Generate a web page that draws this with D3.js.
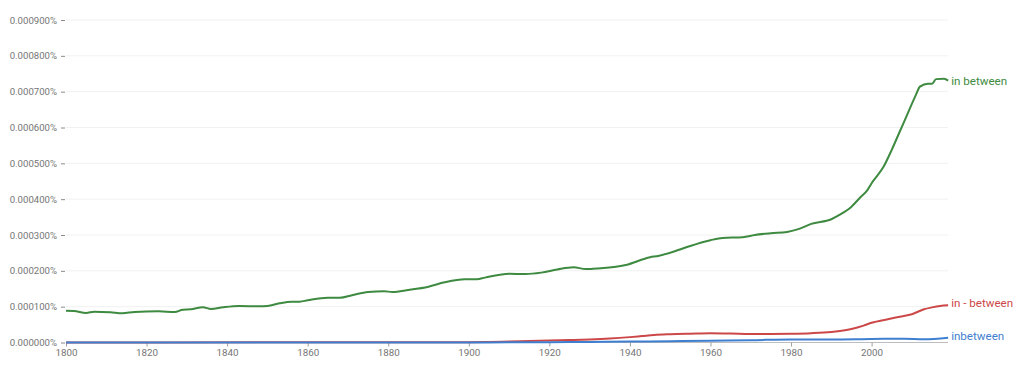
<!DOCTYPE html>
<html>
<head>
<meta charset="utf-8">
<script src="https://cdn.jsdelivr.net/npm/d3@7/dist/d3.min.js"></script>
<style>
  html, body { margin: 0; padding: 0; background: #fff; }
  svg { display: block; font-family: Roboto, "Noto Sans", sans-serif; }
</style>
</head>
<body>
<svg id="chart" width="1024" height="367"></svg>
<script>
// ---- data (values in percent) ----
const yTicks = [0, 0.0001, 0.0002, 0.0003, 0.0004, 0.0005, 0.0006, 0.0007, 0.0008, 0.0009];
const xTicks = [1800, 1820, 1840, 1860, 1880, 1900, 1920, 1940, 1960, 1980, 2000];

const greenName = "in between";
const greenYears = [1800,1802,1805,1807,1811,1814,1817,1823,1827,1829,1831,1834,1836,1839,1843,1848,1850,1853,1856,1858,1860,1865,1868,1871,1875,1879,1881,1885,1890,1894,1899,1902,1904,1910,1914,1918,1922,1926,1929,1932,1939,1945,1947,1952,1955,1960,1963,1968,1971,1975,1979,1982,1985,1990,1992,1995,1997,1999,2000,2003,2005,2007,2009,2011,2012,2014,2015,2016,2018,2019];
const greenValues = [88.8,88,82.4,86,84.3,81.6,85.2,87.1,85.2,91.6,92.7,98.3,93.6,98.3,102,101,102,109.5,114,114,117.9,125,125,132,141,143,141,146.6,155.8,168,176.5,176.5,181,192,191,195,204,210,205,206.7,216.5,238,241.6,258,269.5,285.4,291.9,293.8,300,305,308.6,317,331,344,356,379,402.7,426,444.6,491,537.7,588.8,640,691,714,722,722,735,736,731].map(v => v * 1e-6);

const redName = "in - between";
const redYears = [1800,1850,1900,1905,1910,1915,1920,1925,1930,1935,1940,1943,1946,1950,1955,1960,1965,1970,1975,1980,1985,1990,1993,1995,1998,2000,2004,2007,2010,2013,2015,2017,2019];
const redValues = [0.3,0.4,0.8,1.2,2.5,4,5.5,7,8.5,11,15,18,21,23,24.5,25.7,25,23.7,24,24.5,26,29.3,33.5,37.7,47,55,65,72,79,92.8,98,102,104].map(v => v * 1e-6);

const blueName = "inbetween";
const blueYears = [1800,1850,1900,1910,1920,1930,1940,1950,1960,1970,1980,1990,2000,2008,2013,2019];
const blueValues = [0.1,0.1,0.2,0.4,1,1.5,2.5,3.5,5,6.5,8.5,8.5,9.8,10.5,9,13.4].map(v => v * 1e-6);

const series = [
  { name: greenName, years: greenYears, values: greenValues, color: "#3d8a40", dy: 0 },
  { name: redName, years: redYears, values: redValues, color: "#cc4848", dy: -2 },
  { name: blueName, years: blueYears, values: blueValues, color: "#3f7fd0", dy: -2 }
];

// ---- layout ----
const svg = d3.select("#chart");
const mLeft = 66, mRight = 948, mTop = 20, mBottom = 342.5;

const x = d3.scaleLinear().domain([1800, 2019]).range([mLeft, mLeft + 219 * 4.028]);
const y = d3.scaleLinear().domain([0, 0.0009]).range([mBottom, mTop]);

const fmt = v => v.toFixed(6) + "%";

// gridlines
svg.append("g").selectAll("line")
  .data(yTicks.filter(d => d > 0))
  .join("line")
  .attr("x1", mLeft).attr("x2", mRight)
  .attr("y1", d => y(d)).attr("y2", d => y(d))
  .attr("stroke", "#f1f1f1").attr("stroke-width", 1);

// y axis
const yAxis = svg.append("g").attr("transform", `translate(${mLeft - 1},0)`)
  .call(d3.axisLeft(y).tickValues(yTicks).tickFormat(fmt).tickSize(4).tickPadding(4));
yAxis.select(".domain").remove();
yAxis.selectAll("line").attr("stroke", "#8a8a8a");
yAxis.selectAll("text").attr("fill", "#757575").attr("font-size", 9.6).attr("font-family", "Roboto, sans-serif");

// x axis
const xAxis = svg.append("g").attr("transform", `translate(0,${mBottom})`)
  .call(d3.axisBottom(x).tickValues(xTicks).tickFormat(d3.format("d")).tickSize(4).tickPadding(3));
xAxis.select(".domain").attr("stroke", "#bdbdbd").attr("d", `M${mLeft},0H${mRight}`);
xAxis.selectAll("line").attr("stroke", "#9e9e9e");
xAxis.selectAll("text").attr("fill", "#757575").attr("font-size", 9.8).attr("font-family", "Roboto, sans-serif");

// lines
const line = d3.line().curve(d3.curveMonotoneX);
series.forEach(s => {
  const pts = s.years.map((yr, i) => [x(yr), y(s.values[i])]);
  svg.append("path")
    .attr("d", line(pts))
    .attr("fill", "none")
    .attr("stroke", s.color)
    .attr("stroke-width", 2)
    .attr("stroke-linejoin", "round");
  const lastYear = s.years[s.years.length - 1];
  const lastVal = s.values[s.values.length - 1];
  svg.append("text")
    .attr("x", x(lastYear) + 3)
    .attr("y", y(lastVal) + s.dy)
    .attr("dy", "0.35em")
    .attr("fill", s.color)
    .attr("font-size", 11.6)
    .text(s.name);
});
</script>
</body>
</html>
